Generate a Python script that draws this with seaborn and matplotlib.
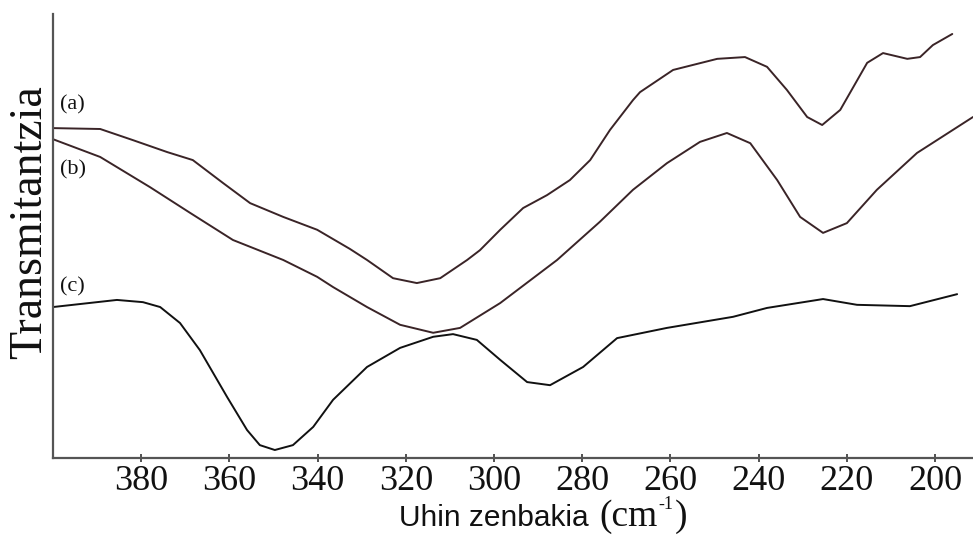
import matplotlib
matplotlib.use('Agg')
import matplotlib.pyplot as plt
import pandas as pd
import seaborn as sns

# wavenumbers (cm-1) and transmittance (arbitrary units)
wave_a = [400.0, 389.3, 381.9, 374.1, 368.3, 361.4, 355.3, 347.8, 340.1, 332.7,
          328.8, 322.9, 317.5, 312.2, 306.1, 303.2, 298.6, 293.4, 288.0, 282.8,
          278.2, 273.7, 268.5, 266.9, 259.4, 249.4, 243.1, 238.1, 233.6, 229.0,
          225.6, 221.5, 215.4, 211.8, 206.3, 203.4, 200.5, 196.1]
trans_a = [74.3, 74.1, 71.6, 68.9, 67.1, 61.9, 57.4, 54.3, 51.4, 47.1,
           44.6, 40.5, 39.4, 40.5, 44.6, 46.8, 51.4, 56.3, 59.2, 62.6,
           67.1, 73.9, 80.6, 82.4, 87.4, 89.9, 90.3, 88.1, 82.9, 76.8,
           75.0, 78.4, 89.0, 91.2, 89.9, 90.3, 93.0, 95.5]

wave_b = [400.0, 389.3, 378.0, 368.9, 359.2, 347.8, 340.1, 336.5, 328.8, 321.3,
          313.8, 307.7, 298.6, 285.7, 276.0, 268.5, 260.8, 253.3, 247.2, 241.9,
          235.8, 230.6, 225.4, 220.0, 213.2, 204.1, 191.4]
trans_b = [71.8, 67.8, 61.0, 55.2, 49.1, 44.6, 40.8, 38.5, 34.0, 30.0,
           28.2, 29.3, 34.9, 44.6, 53.2, 60.4, 66.4, 71.2, 73.2, 70.9,
           62.6, 54.3, 50.7, 52.9, 60.4, 68.7, 76.8]

wave_c = [400.0, 385.5, 379.6, 375.7, 371.2, 366.7, 360.5, 356.0, 353.1, 349.7,
          345.6, 341.0, 336.5, 328.8, 321.3, 313.8, 309.3, 303.9, 298.6, 292.5,
          287.3, 279.8, 272.1, 260.8, 245.8, 238.1, 225.4, 217.7, 205.7, 195.0]
trans_c = [34.0, 35.6, 35.1, 34.0, 30.4, 24.3, 13.7, 6.3, 2.9, 1.8,
           2.9, 7.0, 13.1, 20.5, 24.8, 27.3, 27.9, 26.6, 22.1, 17.1,
           16.4, 20.5, 27.0, 29.3, 31.8, 33.8, 35.8, 34.5, 34.2, 36.9]

x_ticks = [380, 360, 340, 320, 300, 280, 260, 240, 220, 200]
curve_labels = ["(a)", "(b)", "(c)"]

sns.set_style("white")
plt.rcParams['font.family'] = ['Liberation Serif', 'DejaVu Serif']

W, H = 973, 536
fig = plt.figure(figsize=(W / 100, H / 100), dpi=100)
ax = fig.add_axes([53 / W, 78 / H, 920 / W, 444 / H])

series = [(wave_a, trans_a, '#3a2427'), (wave_b, trans_b, '#3a2427'), (wave_c, trans_c, '#111111')]
for wave, trans, col in series:
    df = pd.DataFrame({"wave": wave, "trans": trans})
    sns.lineplot(data=df, x="wave", y="trans", ax=ax, color=col, linewidth=1.4,
                 estimator=None, sort=False)

ax.set_xlim(400, 191.4)
ax.set_ylim(0, 100)
ax.set_xticks(x_ticks)
ax.set_xticklabels([str(t) for t in x_ticks])
ax.set_yticks([])
ax.set_xlabel("")
ax.set_ylabel("")
ax.tick_params(axis='x', direction='inout', length=6, width=1.2, color='#333333',
               labelsize=26, labelcolor='#111111', pad=2, bottom=True)

for side in ['top', 'right']:
    ax.spines[side].set_visible(False)
for side in ['left', 'bottom']:
    ax.spines[side].set_color('#555555')
    ax.spines[side].set_linewidth(1.6)

# curve labels near the left axis
label_y = [105, 170, 287]
for txt, py in zip(curve_labels, label_y):
    fig.text(60 / W, (H - py) / H, txt, fontsize=16, ha='left', va='center', color='#111111')

# axis titles
fig.text(30 / W, (H - 222) / H, "Transmitantzia", rotation=90, fontsize=33,
         ha='center', va='center', color='#111111')

# x title: sans words + serif unit with a small raised "-1", placed piece by piece
base_y = 10 / H
fig.text(597 / W, base_y, "Uhin zenbakia ", family=['Liberation Sans', 'DejaVu Sans'],
         fontsize=21.5, ha='right', va='baseline', color='#111111')
renderer = fig.canvas.get_renderer()
unit = fig.text(599 / W, base_y, "(cm", fontsize=27, ha='left', va='baseline', color='#111111')
x_end = unit.get_window_extent(renderer).x1
sup = fig.text((x_end + 1) / W, base_y + 17 / H, "-1", fontsize=13, ha='left', va='baseline',
               color='#111111')
x_end = sup.get_window_extent(renderer).x1
fig.text((x_end + 1) / W, base_y, ")", fontsize=27, ha='left', va='baseline', color='#111111')

fig.savefig("out.png", dpi=100)
